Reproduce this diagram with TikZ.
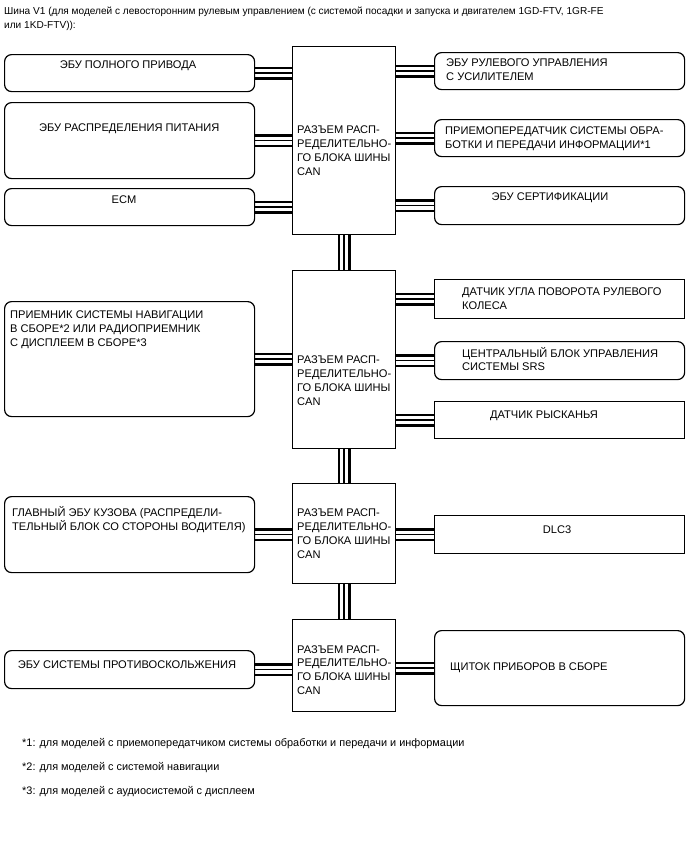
\documentclass[tikz,border=0pt]{standalone}
\usepackage{fontspec}
\setmainfont{Liberation Sans}
\usetikzlibrary{backgrounds}
\begin{document}
\begin{tikzpicture}[x=1pt,y=-1pt,
  rbox/.style={draw, line width=1.2pt, rounded corners=7pt, fill=white, anchor=north west, inner sep=0pt},
  sbox/.style={draw, line width=1.2pt, fill=white, anchor=north west, inner sep=0pt},
  hubbox/.style={draw, line width=1pt, fill=white, anchor=north west, inner sep=0pt, minimum width=103pt},
  txt/.style={anchor=west, align=left, inner sep=0pt, font=\fontsize{11.1}{13.8}\selectfont},
  ctxt/.style={anchor=center, align=center, inner sep=0pt, font=\fontsize{11.1}{13.8}\selectfont},
  titletxt/.style={anchor=west, align=left, inner sep=0pt, font=\fontsize{10.1}{13.5}\selectfont},
  note/.style={anchor=west, align=left, inner sep=0pt, font=\fontsize{10.9}{13.5}\selectfont},
  bus/.style={line width=13pt, draw=black, postaction={draw=white, line width=8pt}, postaction={draw=black, line width=1.5pt}}]
\useasboundingbox (0,0) rectangle (688,852);

% title
\node[titletxt] (title) at (4,19) {Шина V1 (для моделей с левосторонним рулевым управлением (с системой посадки и запуска и двигателем 1GD-FTV, 1GR-FE\\или 1KD-FTV)):};

% hubs
\node[hubbox, minimum height=188pt] (h1) at (292,46) {};
\node[hubbox, minimum height=178pt] (h2) at (292,270) {};
\node[hubbox, minimum height=100pt] (h3) at (292,483) {};
\node[hubbox, minimum height=92pt] (h4) at (292,619) {};

% left boxes
\node[rbox, minimum width=250pt, minimum height=37pt] (l1) at (4,54) {};
\node[rbox, minimum width=250pt, minimum height=76pt] (l2) at (4,102) {};
\node[rbox, minimum width=250pt, minimum height=37pt] (l3) at (4,188) {};
\node[rbox, minimum width=250pt, minimum height=115pt] (l4) at (4,301) {};
\node[rbox, minimum width=250pt, minimum height=76pt] (l5) at (4,496) {};
\node[rbox, minimum width=250pt, minimum height=38pt] (l6) at (4,650) {};

% right boxes
\node[rbox, minimum width=250pt, minimum height=37pt] (r1) at (434,52) {};
\node[rbox, minimum width=250pt, minimum height=37pt] (r2) at (434,119) {};
\node[rbox, minimum width=250pt, minimum height=38pt] (r3) at (434,186) {};
\node[sbox, minimum width=250pt, minimum height=39pt] (r4) at (434,279) {};
\node[rbox, minimum width=250pt, minimum height=38pt] (r5) at (434,341) {};
\node[sbox, minimum width=250pt, minimum height=37pt] (r6) at (434,401) {};
\node[sbox, minimum width=250pt, minimum height=38pt] (r7) at (434,515) {};
\node[rbox, minimum width=250pt, minimum height=75pt] (r8) at (434,630) {};

% buses
\begin{pgfonlayer}{background}
\draw[bus] (h1.south) -- (h2.north);
\draw[bus] (h2.south) -- (h3.north);
\draw[bus] (h3.south) -- (h4.north);
\foreach \b/\h in {l1/h1,l2/h1,l3/h1,l4/h2,l5/h3,l6/h4}
  \draw[bus] (\b.east) -- (\b.east -| \h.west);
\foreach \b/\h in {r1/h1,r2/h1,r3/h1,r4/h2,r5/h2,r6/h2,r7/h3,r8/h4}
  \draw[bus] (\b.west) -- (\b.west -| \h.east);
\end{pgfonlayer}

% hub texts
\node[txt] (th1) at (297,150.5) {РАЗЪЕМ РАСП-\\РЕДЕЛИТЕЛЬНО-\\ГО БЛОКА ШИНЫ\\CAN};
\node[txt] (th2) at (297,380.5) {РАЗЪЕМ РАСП-\\РЕДЕЛИТЕЛЬНО-\\ГО БЛОКА ШИНЫ\\CAN};
\node[txt] (th3) at (297,533.5) {РАЗЪЕМ РАСП-\\РЕДЕЛИТЕЛЬНО-\\ГО БЛОКА ШИНЫ\\CAN};
\node[txt] (th4) at (297,670) {РАЗЪЕМ РАСП-\\РЕДЕЛИТЕЛЬНО-\\ГО БЛОКА ШИНЫ\\CAN};

% left texts
\node[ctxt] (tl1) at (128,66) {ЭБУ ПОЛНОГО ПРИВОДА};
\node[txt] (tl2) at (39,129) {ЭБУ РАСПРЕДЕЛЕНИЯ ПИТАНИЯ};
\node[ctxt] (tl3) at (124,200) {ECM};
\node[txt] (tl4) at (10,330) {ПРИЕМНИК СИСТЕМЫ НАВИГАЦИИ\\В СБОРЕ*2 ИЛИ РАДИОПРИЕМНИК\\С ДИСПЛЕЕМ В СБОРЕ*3};
\node[txt] (tl5) at (12,520) {ГЛАВНЫЙ ЭБУ КУЗОВА (РАСПРЕДЕЛИ-\\ТЕЛЬНЫЙ БЛОК СО СТОРОНЫ ВОДИТЕЛЯ)};
\node[ctxt] (tl6) at (127,665) {ЭБУ СИСТЕМЫ ПРОТИВОСКОЛЬЖЕНИЯ};

% right texts
\node[txt] (tr1) at (446,70) {ЭБУ РУЛЕВОГО УПРАВЛЕНИЯ\\С УСИЛИТЕЛЕМ};
\node[txt] (tr2) at (445,138.5) {ПРИЕМОПЕРЕДАТЧИК СИСТЕМЫ ОБРА-\\БОТКИ И ПЕРЕДАЧИ ИНФОРМАЦИИ*1};
\node[ctxt] (tr3) at (550,198) {ЭБУ СЕРТИФИКАЦИИ};
\node[txt] (tr4) at (462,299) {ДАТЧИК УГЛА ПОВОРОТА РУЛЕВОГО\\КОЛЕСА};
\node[txt] (tr5) at (462,359) {ЦЕНТРАЛЬНЫЙ БЛОК УПРАВЛЕНИЯ\\СИСТЕМЫ SRS};
\node[ctxt] (tr6) at (544,416) {ДАТЧИК РЫСКАНЬЯ};
\node[ctxt] (tr7) at (557,530) {DLC3};
\node[txt] (tr8) at (450,668) {ЩИТОК ПРИБОРОВ В СБОРЕ};

% footnotes
\node[note] (f1) at (22,744) {*1: для моделей с приемопередатчиком системы обработки и передачи и информации};
\node[note] (f2) at (22,768) {*2: для моделей с системой навигации};
\node[note] (f3) at (22,792) {*3: для моделей с аудиосистемой с дисплеем};
\end{tikzpicture}
\end{document}
